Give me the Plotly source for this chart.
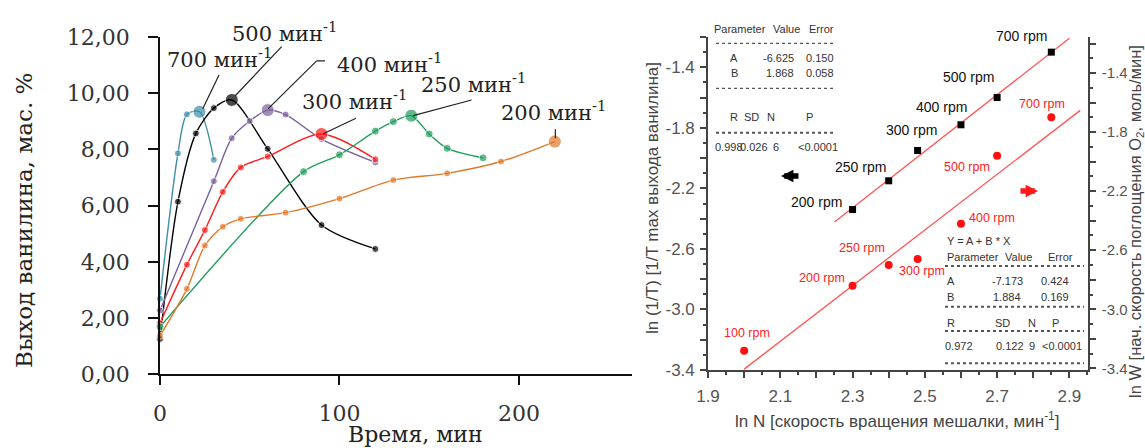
import plotly.graph_objects as go

W, H = 1145, 448

# ---------------- Left chart data (time, min / vanillin yield, wt. %) ----------------
t700 = [0, 10, 15, 22, 30]
y700 = [2.69, 7.86, 9.25, 9.34, 7.63]
t500 = [0, 10, 20, 30, 40, 60, 90, 120]
y500 = [1.26, 6.14, 8.57, 9.47, 9.76, 8.02, 5.31, 4.46]
t400 = [0, 30, 40, 50, 60, 70, 90, 120]
y400 = [2.27, 6.87, 8.40, 9.01, 9.40, 9.24, 8.37, 7.54]
t300 = [0, 15, 25, 35, 45, 60, 90, 120]
y300 = [1.82, 3.90, 5.13, 6.49, 7.36, 7.75, 8.55, 7.65]
t250 = [0, 80, 100, 120, 130, 140, 150, 160, 180]
y250 = [1.69, 7.21, 7.81, 8.65, 8.99, 9.20, 8.55, 8.04, 7.70]
t200 = [0, 15, 25, 35, 45, 70, 100, 130, 160, 190, 220]
y200 = [1.37, 3.04, 4.58, 5.25, 5.53, 5.75, 6.25, 6.91, 7.15, 7.57, 8.28]

left_yticks = [0, 2, 4, 6, 8, 10, 12]
left_yticktext = ["0,00", "2,00", "4,00", "6,00", "8,00", "10,00", "12,00"]
left_xticks = [0, 100, 200]

# ---------------- Right chart data ----------------
rpm_black = ["200 rpm", "250 rpm", "300 rpm", "400 rpm", "500 rpm", "700 rpm"]
x_black = [2.30, 2.40, 2.48, 2.60, 2.70, 2.85]
y_black = [-2.34, -2.15, -1.95, -1.78, -1.60, -1.30]
rpm_red = ["100 rpm", "200 rpm", "250 rpm", "300 rpm", "400 rpm", "500 rpm", "700 rpm"]
x_red = [2.00, 2.30, 2.40, 2.48, 2.60, 2.70, 2.85]
y_red = [-3.28, -2.84, -2.70, -2.66, -2.42, -1.96, -1.70]
A_black, B_black = -6.625, 1.868
A_red, B_red = -7.173, 1.884
fit_black_x = [2.25, 2.90]
fit_red_x = [2.00, 2.93]

# ---------------- helpers ----------------
def PX(x):
    return x / W

def PY(y):
    return 1 - y / H

SERIF = "DejaVu Serif"
SANS = "Arial, Liberation Sans, sans-serif"

# pixel frames of the two plot areas
L_X0, L_X1, L_Y0, L_Y1 = 160, 632, 37, 374.3
L_XR, L_YR = [0, 263], [0, 12]
R_X0, R_X1, R_Y0, R_Y1 = 708, 1088, 37, 370
R_XR, R_YR, R_Y3R = [1.9, 2.9515], [-3.4, -1.2], [-3.411, -1.156]

def lpx(t, v):
    """left-chart data -> paper fraction (for labels outside the axis range)"""
    x = L_X0 + (t - L_XR[0]) / (L_XR[1] - L_XR[0]) * (L_X1 - L_X0)
    y = L_Y1 - (v - L_YR[0]) / (L_YR[1] - L_YR[0]) * (L_Y1 - L_Y0)
    return PX(x), PY(y)

fig = go.Figure()

series = [
    (t700, y700, "#3d8ea6", 7),
    (t500, y500, "#000000", 7),
    (t400, y400, "#7a5f9e", 7),
    (t300, y300, "#ff1a1a", 7),
    (t250, y250, "#1f9e5c", 8),
    (t200, y200, "#e0792a", 7),
]
for tt_, yy, col, ms in series:
    mx = max(yy)
    sizes = [13 if v == mx else ms for v in yy]
    fig.add_trace(go.Scatter(
        x=tt_, y=yy, mode="lines+markers", xaxis="x", yaxis="y",
        line=dict(color=col, width=1.4, shape="spline", smoothing=0.8),
        marker=dict(color=col, size=sizes), showlegend=False, cliponaxis=False))

# right chart fit lines
fig.add_trace(go.Scatter(
    x=fit_black_x, y=[A_black + B_black * v for v in fit_black_x], mode="lines",
    xaxis="x2", yaxis="y2", line=dict(color="#ff5555", width=1.3), showlegend=False))
fig.add_trace(go.Scatter(
    x=fit_red_x, y=[A_red + B_red * v for v in fit_red_x], mode="lines",
    xaxis="x2", yaxis="y3", line=dict(color="#ff5555", width=1.3), showlegend=False))
fig.add_trace(go.Scatter(
    x=x_black, y=y_black, mode="markers", xaxis="x2", yaxis="y2",
    marker=dict(color="#000000", size=7, symbol="square"), showlegend=False, cliponaxis=False))
fig.add_trace(go.Scatter(
    x=x_red, y=y_red, mode="markers", xaxis="x2", yaxis="y3",
    marker=dict(color="#ff1010", size=8, symbol="circle"), showlegend=False, cliponaxis=False))

annotations = []
shapes = []

def pann(text, x, y, size, family, color="#222", xanchor="center", angle=0):
    annotations.append(dict(text=text, x=PX(x), y=PY(y), xref="paper", yref="paper", showarrow=False,
                            xanchor=xanchor, yanchor="middle", textangle=angle,
                            font=dict(family=family, size=size, color=color)))

# ---- left chart labels with leader lines ----
left_labels = [
    ("700 мин<sup>-1</sup>", 33.4, 11.26, [(32.9, 10.65), (23.8, 9.45)]),
    ("500 мин<sup>-1</sup>", 69.1, 12.19, [(67.8, 11.66), (41.8, 9.9)]),
    ("400 мин<sup>-1</sup>", 128.1, 11.07, [(91.9, 11.15), (87.3, 11.15), (60.3, 9.45)]),
    ("300 мин<sup>-1</sup>", 108.6, 9.76, [(109.2, 9.11), (91.0, 8.56)]),
    ("250 мин<sup>-1</sup>", 174.5, 10.36, [(173.6, 9.76), (141.1, 9.2)]),
    ("200 мин<sup>-1</sup>", 219.5, 9.35, [(220.3, 8.72), (220.3, 8.4)]),
]
for txt, lx, ly, pts in left_labels:
    ax_, ay_ = lpx(lx, ly)
    annotations.append(dict(text=txt, x=ax_, y=ay_, xref="paper", yref="paper", showarrow=False,
                            xanchor="center", yanchor="middle",
                            font=dict(family=SERIF, size=21, color="#222")))
    for (x0, y0), (x1, y1) in zip(pts[:-1], pts[1:]):
        shapes.append(dict(type="line", xref="x", yref="y", x0=x0, y0=y0, x1=x1, y1=y1,
                           line=dict(color="#222", width=1.2)))

# left axis titles
pann("Выход ванилина, мас. %", 24, 221, 23, SERIF, angle=-90)
pann("Время, мин", 415, 434, 22, SERIF)

# ---- right chart point labels ----
black_lbl_pos = [(2.199, -2.288), (2.321, -2.057), (2.464, -1.814), (2.547, -1.664), (2.620, -1.462), (2.768, -1.215)]
black_lbl_shift = [0, 0, 0, 0, 0, 3]
for txt, (lx, ly), ys in zip(rpm_black, black_lbl_pos, black_lbl_shift):
    annotations.append(dict(text=txt, x=lx, y=ly, xref="x2", yref="y2", showarrow=False, yshift=ys,
                            xanchor="center", yanchor="middle",
                            font=dict(family=SANS, size=14, color="#111")))
red_lbl_pos = [(2.007, -3.163), (2.215, -2.786), (2.325, -2.583), (2.491, -2.739), (2.687, -2.384), (2.617, -2.034), (2.825, -1.610)]
for txt, (lx, ly) in zip(rpm_red, red_lbl_pos):
    annotations.append(dict(text=txt, x=lx, y=ly, xref="x2", yref="y3", showarrow=False,
                            xanchor="center", yanchor="middle",
                            font=dict(family=SANS, size=12.5, color="#ff2020")))

# arrows
annotations.append(dict(text="", x=PX(781), y=PY(176), xref="paper", yref="paper", ax=19, ay=0,
                        showarrow=True, arrowhead=2, arrowsize=0.45, arrowwidth=5.5, arrowcolor="#000"))
annotations.append(dict(text="", x=PX(1038), y=PY(191), xref="paper", yref="paper", ax=-19, ay=0,
                        showarrow=True, arrowhead=2, arrowsize=0.45, arrowwidth=5.5, arrowcolor="#ff1a1a"))

# right axis titles
pann("ln (1/T) [1/T max выхода ванилина]", 652, 198, 17, SANS, "#444", angle=-90)
pann("ln N [скорость вращения мешалки, мин<sup>-1</sup>]", 897, 420, 17, SANS, "#444")
pann("ln W [нач. скорость поглощения O<sub>2</sub>, моль/мин]", 1136, 222, 16.5, SANS, "#444", angle=-90)

# ---- stats tables ----
def tt(text, x, y, size=11, xanchor="center"):
    pann(text, x, y, size, SANS, "#333", xanchor=xanchor)

def dots(y, x0, x1, w=1.2):
    shapes.append(dict(type="line", xref="paper", yref="paper", x0=PX(x0), x1=PX(x1), y0=PY(y), y1=PY(y),
                       line=dict(color="#555", width=w, dash="dot")))

# top-left table (black series)
tt("Parameter", 740, 29); tt("Value", 786, 29); tt("Error", 821, 29)
dots(43.3, 716, 834)
tt("A", 734, 58); tt("-6.625", 796, 58, xanchor="right"); tt("0.150", 820, 58)
tt("B", 734, 73); tt("1.868", 796, 73, xanchor="right"); tt("0.058", 820, 73)
dots(88.3, 716, 834)
tt("R", 734, 117); tt("SD", 751, 117); tt("N", 771, 117); tt("P", 809, 117)
dots(132.7, 716, 834, 2)
tt("0.998", 729, 147); tt("0.026", 754, 147); tt("6", 776, 147); tt("<0.0001", 818, 147)

# bottom-right table (red series)
tt("Y = A + B * X", 945, 241, xanchor="left")
tt("Parameter", 945, 257, xanchor="left"); tt("Value", 1018, 257); tt("Error", 1060, 257)
dots(266, 945, 1084, 2)
tt("A", 945, 281, xanchor="left"); tt("-7.173", 1007, 281); tt("0.424", 1055, 281)
tt("B", 945, 297, xanchor="left"); tt("1.884", 1007, 297); tt("0.169", 1055, 297)
dots(306.7, 945, 1084, 2)
tt("R", 945, 323, xanchor="left"); tt("SD", 1002, 323); tt("N", 1032, 323); tt("P", 1055, 323)
dots(331, 945, 1084, 2)
tt("0.972", 959, 346); tt("0.122", 1010, 346); tt("9", 1032, 346); tt("<0.0001", 1062, 346)
dots(363.3, 945, 1084, 2)

# right axes tick values
ry_vals = [round(-3.4 + 0.2 * i, 1) for i in range(12)]
ry_text = [("%.1f" % v) if i % 2 == 0 else "" for i, v in enumerate(ry_vals)]
rx_vals = [round(1.9 + 0.1 * i, 1) for i in range(11)]
rx_text = [("%.1f" % v) if i % 2 == 0 else "" for i, v in enumerate(rx_vals)]

fig.update_layout(
    width=W, height=H, margin=dict(l=0, r=0, t=0, b=0, autoexpand=False),
    paper_bgcolor="white", plot_bgcolor="rgba(0,0,0,0)",
    xaxis=dict(domain=[PX(L_X0), PX(L_X1)], range=L_XR, anchor="y", automargin=False,
               tickvals=left_xticks, ticks="outside", ticklen=9, tickwidth=1.5, tickcolor="#111",
               showline=True, linecolor="#111", linewidth=1.6, showgrid=False, zeroline=False,
               tickfont=dict(family=SERIF, size=22, color="#333"), ticklabelstandoff=9),
    yaxis=dict(domain=[PY(L_Y1), PY(L_Y0)], range=L_YR, anchor="x", automargin=False,
               tickvals=left_yticks, ticktext=left_yticktext, ticks="outside", ticklen=10, tickwidth=1.5,
               tickcolor="#111", showline=True, linecolor="#111", linewidth=1.6, showgrid=False,
               zeroline=False, tickfont=dict(family=SERIF, size=22, color="#333"), ticklabelstandoff=14),
    xaxis2=dict(domain=[PX(R_X0), PX(R_X1)], range=R_XR, anchor="y2", automargin=False,
                tickvals=rx_vals, ticktext=rx_text, ticks="outside", ticklen=6, tickwidth=1.5, tickcolor="#444",
                minor=dict(ticks="outside", ticklen=3, dtick=0.05, tick0=1.9, tickcolor="#444"),
                showline=True, linecolor="#444", linewidth=1.6, showgrid=False, zeroline=False,
                tickfont=dict(family=SANS, size=17, color="#555"), ticklabelstandoff=4),
    yaxis2=dict(domain=[PY(R_Y1), PY(R_Y0)], range=R_YR, anchor="x2", automargin=False,
                tickvals=ry_vals, ticktext=ry_text, ticks="outside", ticklen=6, tickwidth=1.5, tickcolor="#444",
                minor=dict(ticks="outside", ticklen=3, dtick=0.1, tick0=-3.4, tickcolor="#444"),
                showline=True, linecolor="#444", linewidth=1.6, showgrid=False, zeroline=False,
                tickfont=dict(family=SANS, size=17, color="#555"), ticklabelstandoff=2),
    yaxis3=dict(range=R_Y3R, anchor="x2", overlaying="y2", side="right", automargin=False,
                tickvals=ry_vals, ticktext=ry_text, ticks="outside", ticklen=6, tickwidth=1.5, tickcolor="#444",
                minor=dict(ticks="outside", ticklen=3, dtick=0.1, tick0=-3.4, tickcolor="#444"),
                showline=True, linecolor="#444", linewidth=1.6, showgrid=False, zeroline=False,
                tickfont=dict(family=SANS, size=15, color="#555"), ticklabelstandoff=3),
    annotations=annotations, shapes=shapes,
)

fig.write_html("out.html", config={"displayModeBar": False},
               post_script="document.body.style.margin='0';document.body.style.overflow='hidden';")
